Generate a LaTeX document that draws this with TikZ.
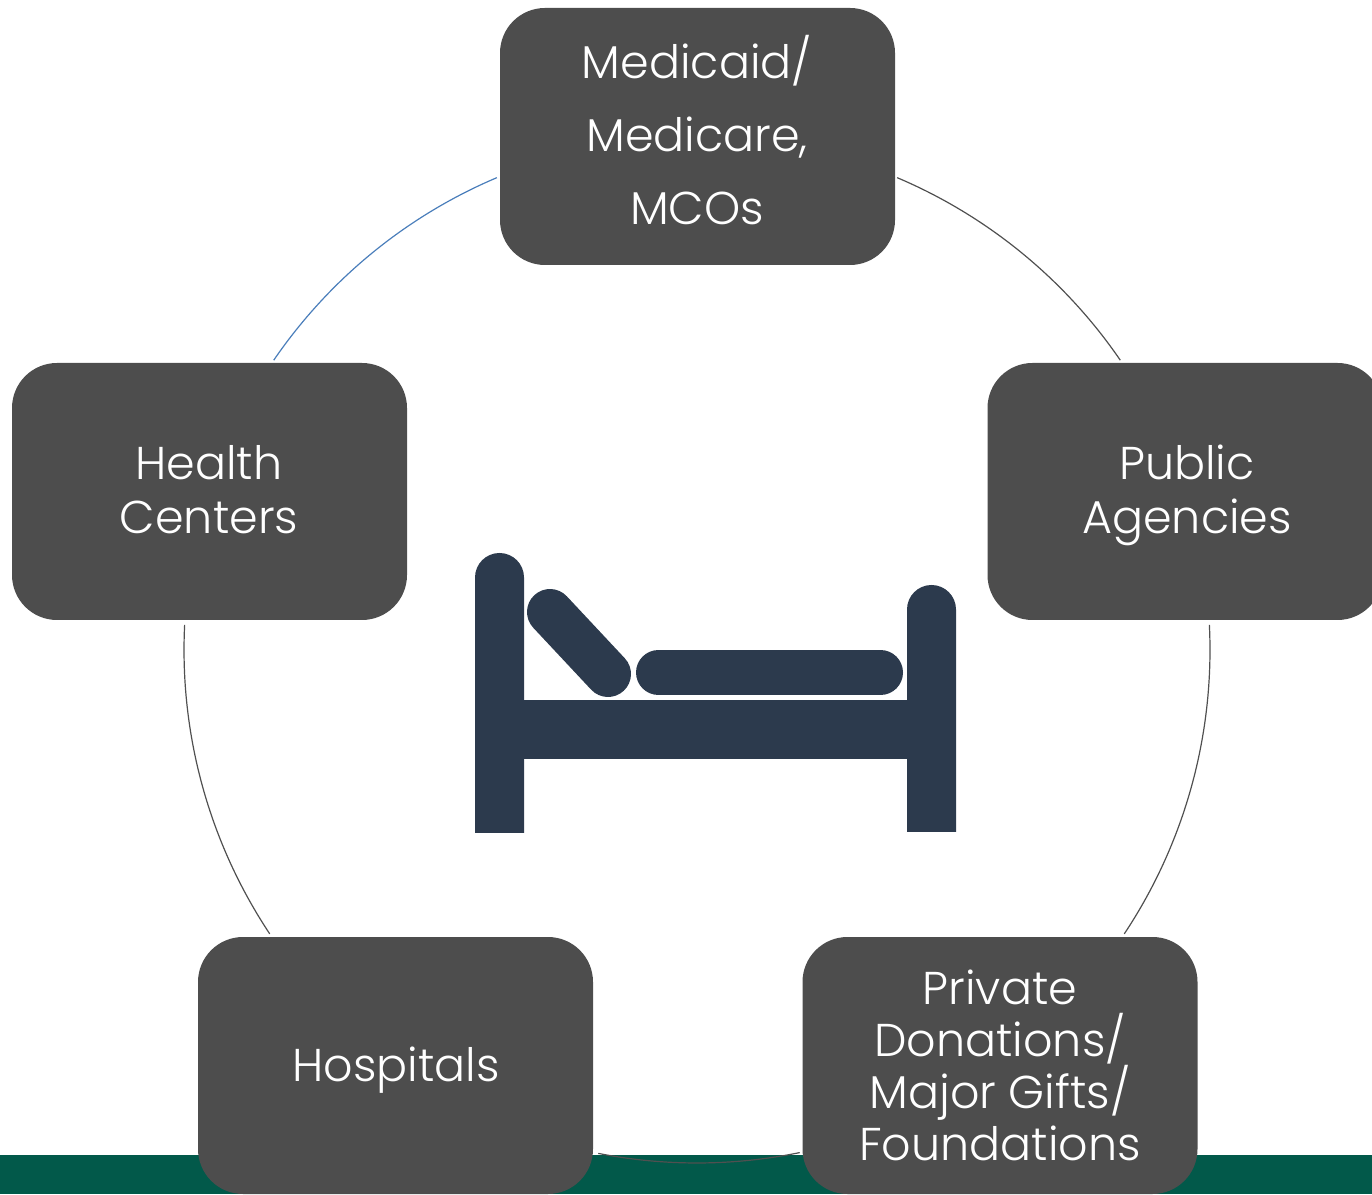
\documentclass[tikz,border=0pt]{standalone}
\usepackage{fontspec}
\setmainfont{Poppins}[UprightFont=* Light]
\usetikzlibrary{calc}
\definecolor{boxgray}{HTML}{4D4D4D}
\definecolor{bedblue}{HTML}{2C3A4D}
\definecolor{bargreen}{HTML}{02594A}
\definecolor{arcgray}{HTML}{505050}
\definecolor{arcblue}{HTML}{4A7EBB}
\begin{document}
\begin{tikzpicture}[x=1pt,y=1pt,
  box/.style={fill=boxgray, rounded corners=45pt, minimum width=395pt, minimum height=257pt,
    inner sep=0pt, text=white, align=center},
  lbl/.style={text=white, align=center, inner sep=0pt},
  ring/.style={draw=arcgray, line width=1.2pt},
  bedpart/.style={fill=bedblue, draw=none}]
\useasboundingbox (0,0) rectangle (1372,1194);
\clip (0,0) rectangle (1372,1194);
% green bar
\fill[bargreen] (0,0) rectangle (1372,39);
% ring centre
\coordinate (c) at (697,544);
% arcs
\draw[ring, draw=arcblue] ($(c)+(112.96:513)$) arc[start angle=112.96, end angle=145.6, radius=513];
\draw[ring] ($(c)+(67.04:513)$) arc[start angle=67.04, end angle=34.4, radius=513];
\draw[ring] ($(c)+(2.8:513)$) arc[start angle=2.8, end angle=-33.6, radius=513];
\draw[ring] ($(c)+(177.2:513)$) arc[start angle=177.2, end angle=213.6, radius=513];
\draw[ring] ($(c)+(258.9:513)$) arc[start angle=258.9, end angle=281.55, radius=513];
% boxes
\node[box] (top) at (697.5,1057.5) {};
\node[box] (left) at (209.5,702.5) {};
\node[box] (right) at (1185,702.5) {};
\node[box] (hosp) at (395.5,128.5) {};
\node[box] (priv) at (1000,128.5) {};
% labels
\node[lbl, font=\fontsize{46}{73}\selectfont] (ttop) at (697,1064) {Medicaid/\\Medicare,\\MCOs};
\node[lbl, font=\fontsize{46}{54}\selectfont] (tleft) at (209,704) {Health\\Centers};
\node[lbl, font=\fontsize{46}{54}\selectfont] (tright) at (1187,699) {Public\\Agencies};
\node[lbl, font=\fontsize{46}{52}\selectfont] (thosp) at (396,124) {Hospitals};
\node[lbl, font=\fontsize{46}{52}\selectfont] (tpriv) at (1000,129) {Private\\Donations/\\Major Gifts/\\Foundations};
% bed
\fill[bedpart] (475,361) -- (475,616.5) arc[start angle=180, end angle=0, radius=24.5] -- (524,361) -- cycle;
\fill[bedpart] (907,362) -- (907,584.5) arc[start angle=180, end angle=0, radius=24.5] -- (956,362) -- cycle;
\fill[bedpart] (523,435) rectangle (908,494);
\draw[bedblue, line width=45pt, line cap=round] (658.5,521.5) -- (880.5,521.5);
\draw[bedblue, line width=46pt, line cap=round] (550,582) -- (608,520);
\end{tikzpicture}
\end{document}
